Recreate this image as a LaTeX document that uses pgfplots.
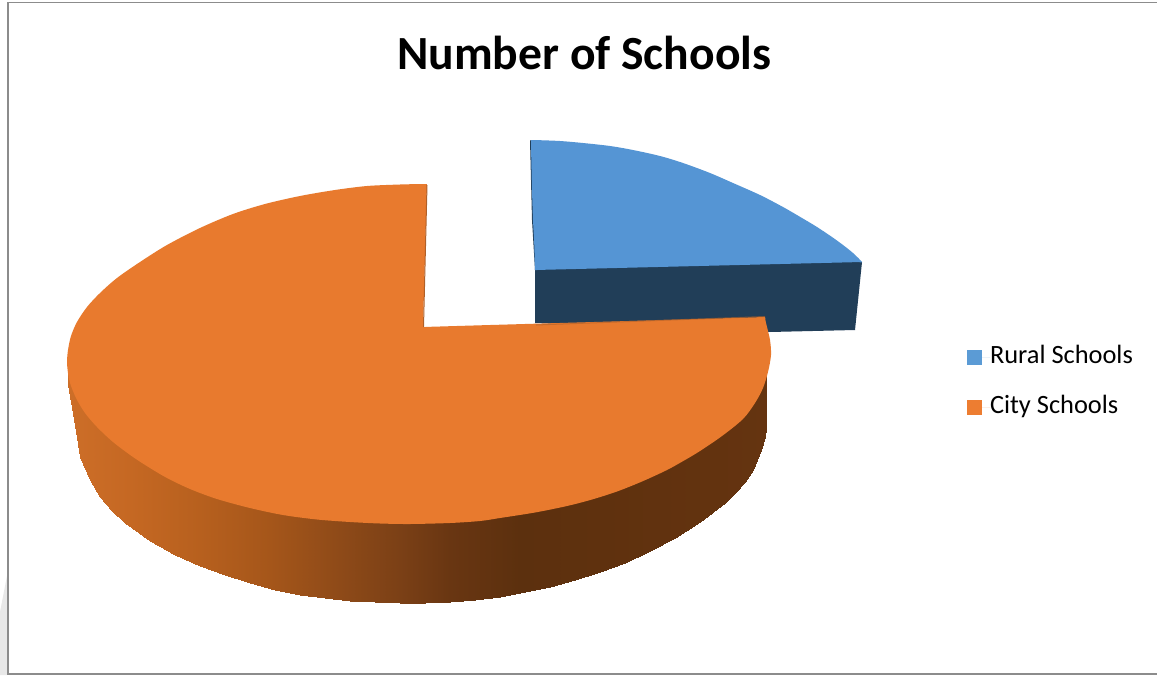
\documentclass[border=0pt]{standalone}
\usepackage{fontspec}
\setmainfont{Carlito}
\usepackage{pgfplots}
\pgfplotsset{compat=1.18}
\definecolor{cityTop}{RGB}{232,122,46}
\definecolor{cityKey}{RGB}{237,125,49}
\definecolor{cityEdge}{RGB}{176,96,40}
\definecolor{ruralTop}{RGB}{85,149,212}
\definecolor{ruralKey}{RGB}{91,155,213}
\definecolor{ruralSide}{RGB}{33,62,88}
\definecolor{frameGrey}{RGB}{140,140,140}
\definecolor{fadeGrey}{RGB}{232,232,232}
\begin{document}
\begin{tikzpicture}
\begin{axis}[
  scale only axis, width=1157pt, height=675pt,
  xmin=0, xmax=1157, ymin=0, ymax=675, y dir=reverse,
  hide axis,
  title={Number of Schools},
  title style={at={(0.505,0.912)}, anchor=center, font=\bfseries\fontsize{47.6}{48}\selectfont, yshift=0pt},
  colormap={sideshade}{
    rgb255(68pt)=(205,110,40) rgb255(130pt)=(197,104,35) rgb255(200pt)=(183,96,30)
    rgb255(270pt)=(165,86,26) rgb255(340pt)=(142,74,24) rgb255(400pt)=(123,64,22)
    rgb255(450pt)=(105,54,18) rgb255(520pt)=(92,48,14) rgb255(600pt)=(95,49,14)
    rgb255(770pt)=(101,52,16)},
  legend cell align=left,
  legend style={at={(axis cs:967,347)}, anchor=north west, draw=none, fill=none,
    font=\fontsize{26.4}{27}\selectfont, row sep=29pt, inner sep=0pt, outer sep=0pt,
    nodes={inner sep=0pt, text height=16pt, text depth=5pt}},
  legend image code/.code={\fill[#1] (0pt,-7.5pt) rectangle (15pt,7.5pt); \path (0pt,0pt) -- (23pt,0pt);},
]
% page background and surrounding frame
\addplot[forget plot, fill=white, draw=none] coordinates {(0,0) (1157,0) (1157,675) (0,675)} -- cycle;
\addplot[forget plot, fill=fadeGrey, draw=none] coordinates {(0,612) (7,576) (7,675) (0,675)} -- cycle;
\addplot[forget plot, draw=frameGrey, line width=1.6pt] coordinates {(1160,2.5) (8,2.5) (8,674) (1160,674)};

% Rural Schools: dark rim and outer wall
\addplot[forget plot, fill=ruralSide, draw=none] coordinates {
  (530,140) (532,220) (535,270) (535,323) (770,332) (855,330) (862,262) (700,262)} -- cycle;
% Rural Schools: upper face; edge points bunch up at each corner to keep it sharp
\addplot[fill=ruralTop, draw=none, smooth, legend image post style={fill=ruralKey}] coordinates {
  (531,140) (534,140.05) (540,140.2) (560,141) (583,143) (610,146) (633,150) (660,156) (683,163) (710,173)
  (733,183) (760,195) (783,207) (802,218) (817,227) (832,237) (843,245) (853,253) (862,262)
  (859,262.07) (853,262.22) (835,262.66) (781,263.98) (616,268.02) (562,269.34) (544,269.78) (538,269.93) (535,270)
  (534.9,267) (534.7,261) (534.2,243) (533,220) (532,190) (531.3,160) (531.1,147) (531,143)} -- cycle;
\addlegendentry{Rural Schools}

% City Schools: outer wall, one vertical band per x step
\addplot[forget plot, patch, patch type=rectangle, shader=interp,
  point meta=x, point meta min=68, point meta max=770] table {
x y
68 368
75 394
75 425
68 385
75 394
80 400
80 457
75 425
80 400
90 412
90 480
80 457
90 412
100 425
100 497
90 480
100 425
112 436
112 511
100 497
112 436
125 447
125 523
112 511
125 447
150 464
150 541
125 523
150 464
175 477
175 555
150 541
175 477
200 488
200 566
175 555
200 488
225 497
225 575
200 566
225 497
250 504
250 583
225 575
250 504
275 509
275 590
250 583
275 509
300 513
300 595
275 590
300 513
325 516
325 598
300 595
325 516
350 518
350 601
325 598
350 518
375 519
375 602
350 601
375 519
400 520
400 603
375 602
400 520
425 520
425 603
400 603
425 520
450 519
450 602
425 603
450 519
475 517
475 600
450 602
475 517
500 514
500 597
475 600
500 514
525 510
525 592
500 597
525 510
550 506
550 587
525 592
550 506
575 500
575 580
550 587
575 500
600 493
600 572
575 580
600 493
625 484
625 563
600 572
625 484
650 474
650 551
625 563
650 474
675 461
675 538
650 551
675 461
700 447
700 522
675 538
700 447
725 430
725 503
700 522
725 430
735 421
735 493
725 503
735 421
745 413
745 482
735 493
745 413
753 402
753 470
745 482
753 402
761 385
761 450
753 470
761 385
765 372
765 437
761 450
765 372
767 365
767 420
765 437
};

% City Schools: upper face; edge points bunch up at each corner to keep it sharp
\addplot[fill=cityTop, draw=none, smooth, legend image post style={fill=cityKey}] coordinates {
  (427,184) (424,184.03) (418,184.1) (400,184.5) (367,186) (335,190) (300,196) (265,204) (233,214) (200,228)
  (167,245) (140,262) (117,278) (100,293) (87,307) (77,322) (71,336) (68,350) (67,362)
  (68,373) (70,383) (76,398) (85,413) (97,427) (113,442) (133,457) (150,468) (167,478)
  (190,489) (217,499) (250,508) (283,515) (317,519.5) (350,522) (380,523.5) (410,524)
  (450,523) (480,521) (500,518) (535,512.5) (567,506) (592,499.5) (617,491.5) (642,481.5)
  (667,470) (685,460) (700,451) (722,436) (743,419) (755,403) (763,388) (768,372)
  (771,355) (770,340) (766.5,325) (765.4,320) (765,317)
  (762,317.09) (756,317.26) (738,317.8) (684,319.4) (504,324.6) (450,326.2) (432,326.73) (426,326.91) (423,327)
  (423.08,324) (423.25,318) (423.76,300) (425.27,246) (426.27,210) (426.83,190) (426.92,187)} -- cycle;
\addlegendentry{City Schools}
% lit rims along the notch and the straight front edge
\addplot[forget plot, draw=cityEdge, line width=1pt] coordinates {(427,185) (423.5,327)};
\addplot[forget plot, draw=cityEdge, opacity=.6, line width=1pt] coordinates {(536,325) (765,316.5)};
\end{axis}
\end{tikzpicture}
\end{document}
